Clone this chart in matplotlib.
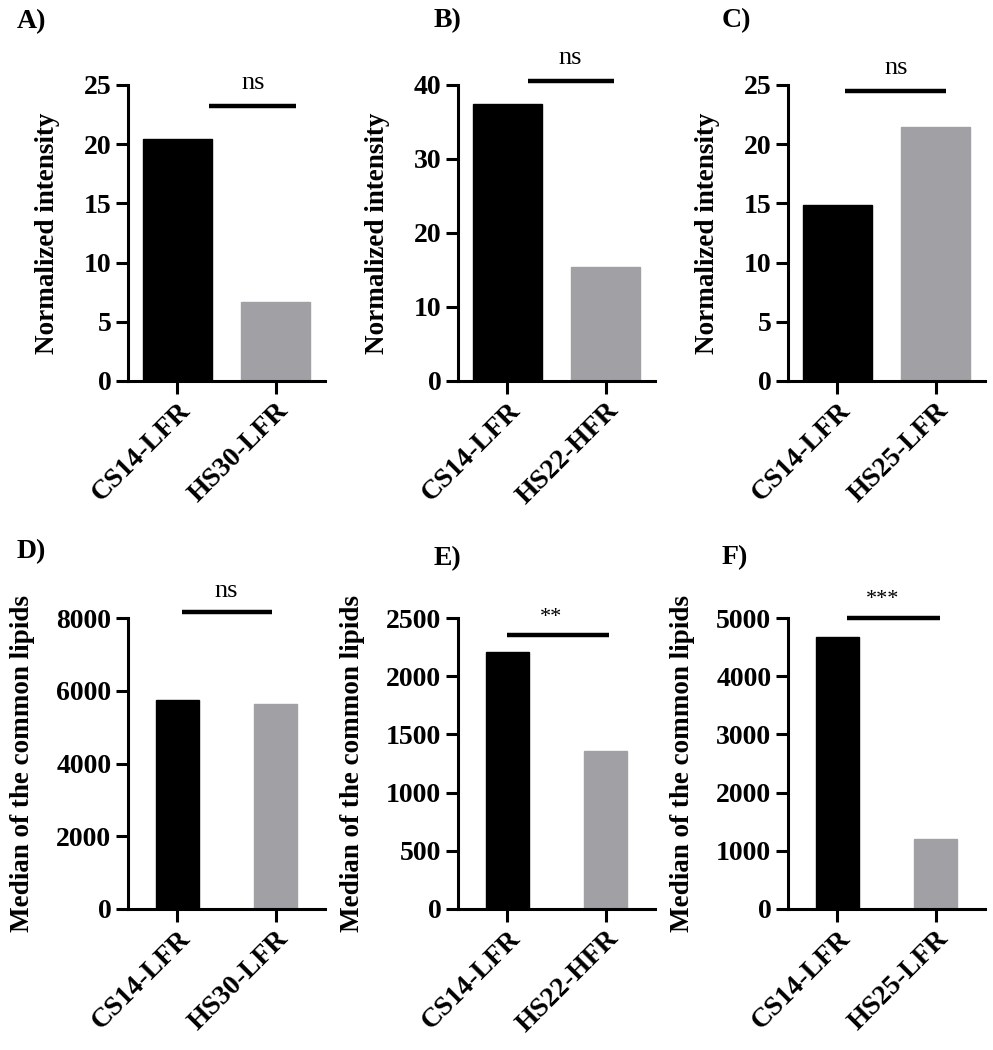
import matplotlib
matplotlib.use('Agg')
import matplotlib.pyplot as plt
import matplotlib.transforms as mtransforms

plt.rcParams['font.family'] = ['Liberation Serif', 'DejaVu Serif']

# data
groups_top = [['CS14-LFR', 'HS30-LFR'], ['CS14-LFR', 'HS22-HFR'], ['CS14-LFR', 'HS25-LFR']]
vals_top = [[20.4, 6.7], [37.5, 15.4], [14.9, 21.45]]
groups_bot = [['CS14-LFR', 'HS30-LFR'], ['CS14-LFR', 'HS22-HFR'], ['CS14-LFR', 'HS25-LFR']]
vals_bot = [[5740, 5630], [2210, 1355], [4670, 1210]]
sig_top = ['ns', 'ns', 'ns']
sig_bot = ['ns', '**', '***']
ymax_top = [25, 40, 25]
ystep_top = [5, 10, 5]
ymax_bot = [8000, 2500, 5000]
ystep_bot = [2000, 500, 1000]
panel_letters = ['A)', 'B)', 'C)', 'D)', 'E)', 'F)']

# significance bars: x0, x1, y_line, y_text, x_text
sig_pos_top = [(0.32, 1.21, 23.2, 25.2, 0.77), (0.21, 1.08, 40.5, 43.6, 0.64), (0.08, 1.10, 24.5, 26.4, 0.60)]
sig_pos_bot = [(0.05, 0.96, 8170, 8740, 0.50), (0.00, 1.03, 2354, 2505, 0.44), (0.10, 1.04, 5000, 5320, 0.46)]

black = '#000000'
grey = '#a1a1a5'

fig = plt.figure(figsize=(9.93, 10.5), dpi=100)
W, H = 993.0, 1050.0

lefts = [128, 458, 788]
width_px = 197
top_rows = [(85, 381), (618, 909)]


def style_axis(ax):
    for s in ['top', 'right']:
        ax.spines[s].set_visible(False)
    for s in ['left', 'bottom']:
        ax.spines[s].set_linewidth(2.2)
    ax.tick_params(axis='both', direction='out', length=9, width=2.2, labelsize=20, pad=3)
    for lab in ax.get_yticklabels():
        lab.set_fontweight('bold')


def draw_panel(ax, names, vals, ymax, ystep, bw, sig, spos, ylabel, label_x):
    ax.bar([0, 1], vals, width=bw, color=[black, grey], edgecolor=[black, grey])
    ax.set_xlim(-0.5, 1.5)
    ax.set_ylim(0, ymax)
    ax.set_yticks(range(0, ymax + 1, ystep))
    ax.set_xticks([0, 1])
    ax.set_xticklabels(names, rotation=45, ha='right', rotation_mode='anchor', fontweight='bold', fontsize=20.5)
    shift = mtransforms.ScaledTranslation(-4 / 100, -2 / 100, fig.dpi_scale_trans)
    for lab in ax.get_xticklabels():
        lab.set_transform(lab.get_transform() + shift)
    style_axis(ax)
    ax.set_ylabel(ylabel, fontsize=19.5, fontweight='bold')
    ax.yaxis.set_label_coords(label_x, 0.5)
    x0, x1, yl, yt, xt = spos
    ax.plot([x0, x1], [yl, yl], color='black', lw=3.2, clip_on=False, solid_capstyle='butt')
    ax.text(xt, yt, sig, ha='center', va='center', fontsize=19 if sig == 'ns' else 16, clip_on=False)


for i in range(3):
    t, b = top_rows[0]
    ax = fig.add_axes([lefts[i] / W, 1 - b / H, width_px / W, (b - t) / H])
    draw_panel(ax, groups_top[i], vals_top[i], ymax_top[i], ystep_top[i], 0.7,
               sig_top[i], sig_pos_top[i], 'Normalized intensity', -0.345)

for i in range(3):
    t, b = top_rows[1]
    ax = fig.add_axes([lefts[i] / W, 1 - b / H, width_px / W, (b - t) / H])
    draw_panel(ax, groups_bot[i], vals_bot[i], ymax_bot[i], ystep_bot[i], 0.44,
               sig_bot[i], sig_pos_bot[i], 'Median of the common lipids', -0.47)

# panel letters
letter_pos = [(17, 22), (434, 21), (722, 21), (17, 552), (434, 559), (722, 558)]
for lt, (px, py) in zip(panel_letters, letter_pos):
    fig.text(px / W, 1 - py / H, lt, fontsize=20, fontweight='bold', ha='left', va='center')

fig.savefig('out.png', dpi=100)
